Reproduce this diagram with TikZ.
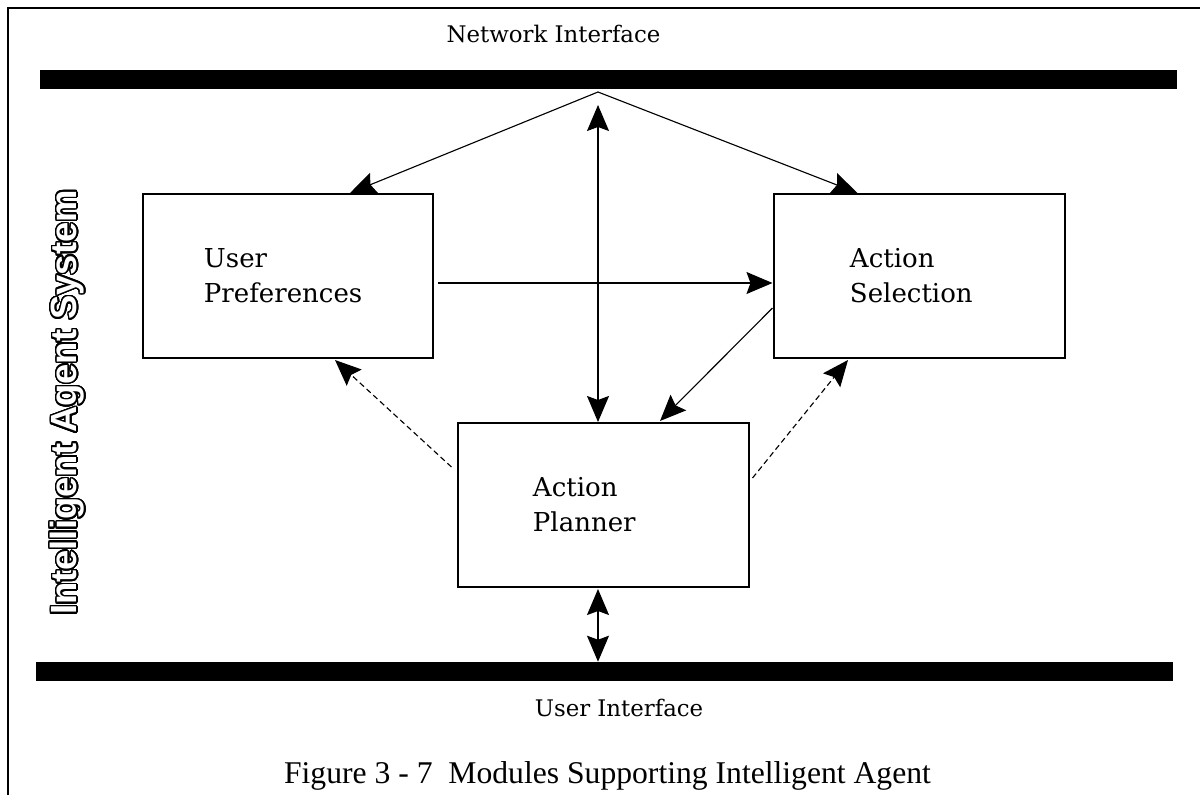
\documentclass[tikz,border=0pt]{standalone}
\usepackage{fontspec}
\setmainfont{Liberation Serif}
\newfontfamily\bmfont{DejaVu Serif}
\newfontfamily\agentfont{Liberation Sans}
\usepackage{contour}
\contourlength{1.1pt}
\contournumber{32}
\usetikzlibrary{arrows.meta}

\begin{document}
\begin{tikzpicture}[x=0.025cm,y=-0.025cm,
    >={Stealth[length=0.65cm,width=0.55cm,inset=0.1cm]},
    module/.style={draw,line width=1.4pt,minimum width=7.25cm,minimum height=4.1cm,
      inner sep=0pt,align=left,font=\bmfont\fontsize{18.5}{25}\selectfont},
    bus/.style={fill=black,minimum width=28.425cm,minimum height=0.475cm,inner sep=0pt},
    iface/.style={anchor=base,inner sep=0pt,font=\bmfont\fontsize{16.25}{19}\selectfont}]
   \useasboundingbox (0,0) rectangle (1200,795);

   % 枠
   \draw[line width=1.5pt] (8,795) -- (8,8) -- (1200,8);

   % インタフェース
   \node[bus] (nbar) at (608.5,79.5) {};
   \node[bus] (ubar) at (604.5,671.5) {};
   \node[iface] (ntext) at (553.5,43) {Network Interface};
   \node[iface] (utext) at (619,716) {User Interface};

   % モジュール
   \node[module,text width=4.2cm] (pref) at (288,276) {User\\Preferences};
   \node[module,text width=3.475cm] (sel) at (919.5,276) {Action\\Selection};
   \node[module,text width=3.525cm] (plan) at (603.5,505) {Action\\Planner};

   \node[rotate=90,inner sep=0pt,font=\agentfont\bfseries\fontsize{25.9}{30}\selectfont]
      (sys) at (68,402.5) {\color{white}\contour{black}{Intelligent Agent System}};

   % 矢印
   \coordinate (apex) at (598,92);
   \coordinate (ntip) at (598,105);
   \coordinate (ptop) at ([shift={(-5.5,1)}]plan.south);
   \draw[thick,->] (apex) -- ([xshift=1.55cm]pref.north);
   \draw[thick,->] (apex) -- ([xshift=-1.55cm]sel.north);
   \draw[thick,<->] (ntip) -- (ntip |- plan.north);
   \draw[thick,->] ([shift={(4,7)}]pref.east) -- ([shift={(-1,7)}]sel.west);
   \draw[thick,->] ([shift={(-1,32)}]sel.west) -- ([shift={(56.5,-1)}]plan.north);
   \draw[thick,dash pattern=on 4pt off 2.5pt,->] ([shift={(-6,-38)}]plan.west) -- ([shift={(47,1)}]pref.south);
   \draw[thick,dash pattern=on 4pt off 2.5pt,->] ([shift={(3,-27)}]plan.east) -- ([shift={(-71.5,1)}]sel.south);
   \draw[thick,<->] (ptop) -- (ptop |- ubar.north);

   % 見出し
   \node[anchor=base,inner sep=0pt,font=\fontsize{22.5}{26}\selectfont] (cap) at (607.5,783)
      {Figure 3 - 7\ \ Modules Supporting Intelligent Agent};
\end{tikzpicture}
\end{document}
